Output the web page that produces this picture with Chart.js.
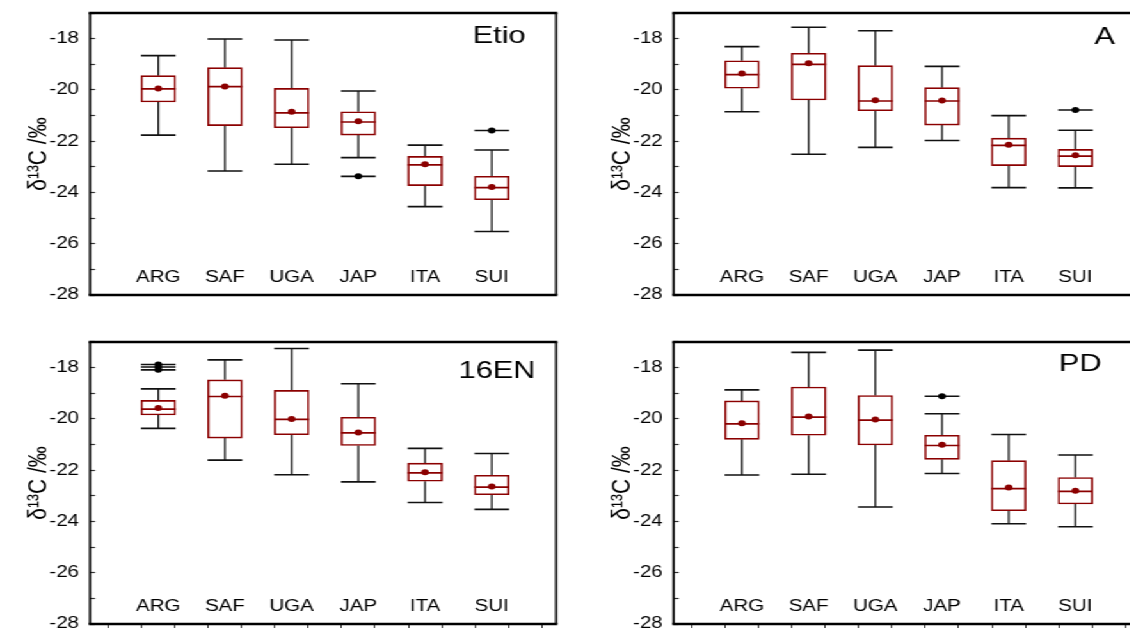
<!DOCTYPE html>
<html>
<head>
<meta charset="utf-8">
<script src="https://cdn.jsdelivr.net/npm/chart.js@4.4.1/dist/chart.umd.min.js"></script>
<style>
  html, body { margin: 0; padding: 0; background: #fff; overflow: hidden; width: 1130px; height: 632px; }
  #wrap { position: absolute; left: 0; top: 0; width: 883px; height: 632px; transform: scaleX(1.28); transform-origin: 0 0; }
  #wrap canvas { position: absolute; }
</style>
</head>
<body>
<div id="wrap">
  <canvas id="etio" width="445" height="303" style="left:0px;top:0px"></canvas>
  <canvas id="a" width="445" height="303" style="left:456px;top:0px"></canvas>
  <canvas id="en16" width="445" height="312" style="left:0px;top:320px"></canvas>
  <canvas id="pd" width="445" height="312" style="left:456px;top:320px"></canvas>
</div>
<script>
const categories = ["ARG", "SAF", "UGA", "JAP", "ITA", "SUI"];
const yTicks = [-28, -26, -24, -22, -20, -18];

// Etio
const etioMin = [-21.76, -23.16, -22.90, -22.64, -24.55, -25.52];
const etioQ1 = [-20.47, -21.39, -21.47, -21.76, -23.73, -24.28];
const etioMed = [-19.96, -19.87, -20.89, -21.25, -22.92, -23.81];
const etioQ3 = [-19.44, -19.13, -19.94, -20.85, -22.59, -23.37];
const etioMax = [-18.66, -18.01, -18.05, -20.04, -22.15, -22.34];
const etioMean = [-19.94, -19.86, -20.85, -21.22, -22.90, -23.79];
const etioOut = [[], [], [], [-23.37], [], [-21.58]];

// A
const aMin = [-20.85, -22.51, -22.24, -21.97, -23.81, -23.82];
const aQ1 = [-19.93, -20.39, -20.81, -21.37, -22.95, -22.99];
const aMed = [-19.40, -19.00, -20.43, -20.43, -22.16, -22.58];
const aQ3 = [-18.86, -18.57, -19.05, -19.91, -21.88, -22.32];
const aMax = [-18.31, -17.55, -17.69, -19.08, -21.00, -21.57];
const aMean = [-19.36, -18.96, -20.40, -20.41, -22.14, -22.55];
const aOut = [[], [], [], [], [], [-20.78]];

// 16EN
const enMin = [-20.37, -21.61, -22.18, -22.46, -23.26, -23.53];
const enQ1 = [-19.85, -20.75, -20.62, -21.04, -22.43, -22.96];
const enMed = [-19.62, -19.13, -20.02, -20.55, -22.11, -22.66];
const enQ3 = [-19.28, -18.48, -18.89, -19.94, -21.73, -22.20];
const enMax = [-18.83, -17.70, -17.26, -18.63, -21.15, -21.35];
const enMean = [-19.58, -19.10, -20.01, -20.53, -22.08, -22.64];
const enOut = [[-17.88, -17.98, -18.09], [], [], [], [], []];

// PD
const pdMin = [-22.19, -22.16, -23.44, -22.13, -24.09, -24.21];
const pdQ1 = [-20.80, -20.64, -21.02, -21.58, -23.58, -23.32];
const pdMed = [-20.20, -19.93, -20.05, -21.04, -22.72, -22.83];
const pdQ3 = [-19.30, -18.76, -19.09, -20.64, -21.63, -22.29];
const pdMax = [-18.87, -17.41, -17.32, -19.80, -20.61, -21.41];
const pdMean = [-20.17, -19.91, -20.03, -21.01, -22.68, -22.80];
const pdOut = [[], [], [], [-19.12], [], []];

const RED = "#8b0000";
const INK = "#111";
const FONT = "'Liberation Sans', Arial, sans-serif";
const HALF = 0.26; // half width of box / caps, in x units

const boxPlugin = {
    id: "boxWhiskers",
    beforeDatasetsDraw(chart) {
        const p = chart.options.plugins.boxWhiskers;
        const xs = chart.scales.x, ys = chart.scales.y, ctx = chart.ctx;
        ctx.save();
        ctx.strokeStyle = INK;
        categories.forEach((c, i) => {
            const x = xs.getPixelForValue(i + 1);
            const xl = xs.getPixelForValue(i + 1 - HALF);
            const xr = xs.getPixelForValue(i + 1 + HALF);
            ctx.lineWidth = 1.3;
            ctx.beginPath();
            ctx.moveTo(x, ys.getPixelForValue(p.q3[i]));
            ctx.lineTo(x, ys.getPixelForValue(p.max[i]));
            ctx.moveTo(x, ys.getPixelForValue(p.q1[i]));
            ctx.lineTo(x, ys.getPixelForValue(p.min[i]));
            ctx.stroke();
            ctx.lineWidth = 1.6;
            ctx.beginPath();
            [p.max[i], p.min[i]].concat(p.out[i]).forEach(v => {
                const y = ys.getPixelForValue(v);
                ctx.moveTo(xl, y);
                ctx.lineTo(xr, y);
            });
            ctx.stroke();
        });
        ctx.restore();
    },
    afterDatasetDraw(chart, args) {
        if (args.index !== 0) return;
        const p = chart.options.plugins.boxWhiskers;
        const xs = chart.scales.x, ys = chart.scales.y, ctx = chart.ctx;
        ctx.save();
        ctx.strokeStyle = RED;
        ctx.lineWidth = 1.7;
        ctx.beginPath();
        p.med.forEach((v, i) => {
            const y = ys.getPixelForValue(v);
            ctx.moveTo(xs.getPixelForValue(i + 1 - HALF), y);
            ctx.lineTo(xs.getPixelForValue(i + 1 + HALF), y);
        });
        ctx.stroke();
        ctx.restore();
    },
    afterDraw(chart) {
        const p = chart.options.plugins.boxWhiskers;
        const a = chart.chartArea, ctx = chart.ctx;
        ctx.save();
        ctx.strokeStyle = "#000";
        ctx.lineWidth = 2.5;
        ctx.beginPath();
        ctx.moveTo(a.left - 1, a.top);
        ctx.lineTo(a.right + 1, a.top);
        ctx.moveTo(a.left - 1, a.bottom);
        ctx.lineTo(a.right + 1, a.bottom);
        ctx.stroke();
        ctx.lineWidth = 1.7;
        ctx.beginPath();
        ctx.moveTo(a.left, a.top);
        ctx.lineTo(a.left, a.bottom);
        ctx.moveTo(a.right, a.top);
        ctx.lineTo(a.right, a.bottom);
        ctx.stroke();
        // panel name
        ctx.fillStyle = "#000";
        ctx.font = "24px " + FONT;
        ctx.textAlign = "center";
        ctx.textBaseline = "middle";
        ctx.fillText(p.name, chart.scales.x.getPixelForValue(p.nameAt[0]), chart.scales.y.getPixelForValue(p.nameAt[1]));
        ctx.restore();
    }
};

function noPad(sc) {
    sc.paddingTop = 0;
    sc.paddingBottom = 0;
    sc.paddingLeft = 0;
    sc.paddingRight = 0;
}

function makePanel(id, name, nameAt, s, bottomRow) {
    const boxes = categories.map((c, i) => ({ x: i + 1, y: [s.q1[i], s.q3[i]] }));
    const means = categories.map((c, i) => ({ x: i + 1, y: s.mean[i] }));
    const outs = [];
    s.out.forEach((list, i) => list.forEach(v => outs.push({ x: i + 1, y: v })));

    new Chart(document.getElementById(id), {
        type: "bar",
        data: {
            datasets: [
                {
                    data: boxes,
                    order: 3,
                    backgroundColor: "#fff",
                    borderColor: RED,
                    borderWidth: 1.6,
                    borderSkipped: false,
                    barThickness: 27
                },
                {
                    type: "scatter",
                    data: means,
                    order: 1,
                    pointRadius: 3,
                    pointBackgroundColor: RED,
                    pointBorderWidth: 0
                },
                {
                    type: "scatter",
                    data: outs,
                    order: 0,
                    pointRadius: 3,
                    pointBackgroundColor: "#000",
                    pointBorderWidth: 0
                }
            ]
        },
        options: {
            responsive: false,
            animation: false,
            events: [],
            layout: { padding: { top: bottomRow ? 21.9 : 13.1, right: 10.6, left: 0, bottom: 0 } },
            plugins: {
                legend: { display: false },
                tooltip: { enabled: false },
                boxWhiskers: { name, nameAt, ...s }
            },
            scales: {
                x: {
                    type: "linear",
                    offset: false,
                    min: -0.024,
                    max: 6.964,
                    afterBuildTicks: sc => {
                        sc.ticks = [0.5, 1, 1.5, 2, 2.5, 3, 3.5, 4, 4.5, 5, 5.5, 6, 6.5].map(v => ({ value: v }));
                    },
                    afterFit: sc => { sc.height = 8; noPad(sc); },
                    border: { display: false },
                    grid: {
                        drawOnChartArea: false,
                        drawTicks: true,
                        tickLength: 4,
                        tickWidth: 1,
                        tickColor: bottomRow ? "#333" : "rgba(0,0,0,0)"
                    },
                    ticks: {
                        autoSkip: false,
                        maxRotation: 0,
                        mirror: true,
                        padding: 7.5,
                        color: "#000",
                        font: { family: FONT, size: 16 },
                        callback: v => (Number.isInteger(v) && v >= 1 && v <= 6) ? categories[v - 1] : ""
                    }
                },
                y: {
                    min: -28,
                    max: -17,
                    afterFit: sc => { sc.width = 70.3; noPad(sc); },
                    border: { display: false },
                    grid: {
                        drawOnChartArea: false,
                        drawTicks: true,
                        tickLength: -4,
                        tickWidth: 1.2,
                        tickColor: "#333"
                    },
                    ticks: {
                        stepSize: 1,
                        padding: 12.6,
                        color: "#000",
                        font: { family: FONT, size: 16 },
                        callback: v => yTicks.includes(v) ? String(v) : ""
                    },
                    title: {
                        display: true,
                        text: "δ¹³C /‰",
                        color: "#000",
                        padding: { top: 17.8, bottom: 0 },
                        font: { family: FONT, size: 21 }
                    }
                }
            }
        },
        plugins: [boxPlugin]
    });
}

makePanel("etio", "Etio", [6.11, -17.9],
    { min: etioMin, q1: etioQ1, med: etioMed, q3: etioQ3, max: etioMax, mean: etioMean, out: etioOut }, false);
makePanel("a", "A", [6.44, -17.95],
    { min: aMin, q1: aQ1, med: aMed, q3: aQ3, max: aMax, mean: aMean, out: aOut }, false);
makePanel("en16", "16EN", [6.08, -18.14],
    { min: enMin, q1: enQ1, med: enMed, q3: enQ3, max: enMax, mean: enMean, out: enOut }, true);
makePanel("pd", "PD", [6.07, -17.86],
    { min: pdMin, q1: pdQ1, med: pdMed, q3: pdQ3, max: pdMax, mean: pdMean, out: pdOut }, true);
</script>
</body>
</html>
